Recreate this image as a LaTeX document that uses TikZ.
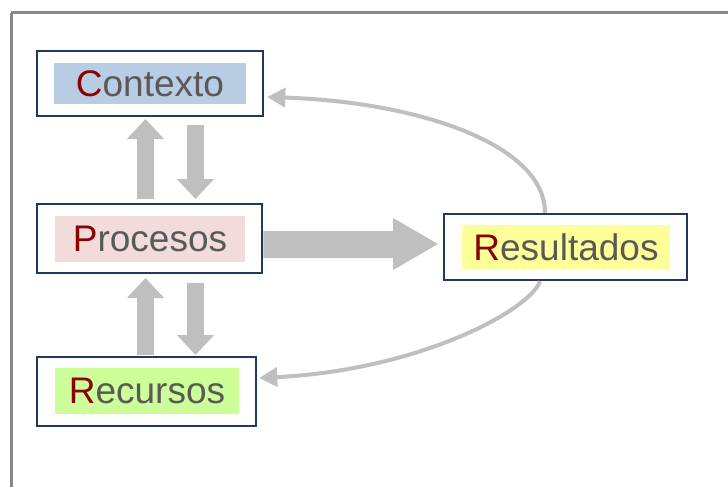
\documentclass[tikz,border=0pt]{standalone}
\usepackage{fontspec}
\setmainfont{Liberation Sans}
\usetikzlibrary{arrows.meta,calc}
\definecolor{navy}{HTML}{1F3A60}
\definecolor{txtgray}{HTML}{595959}
\definecolor{first}{HTML}{8B0000}
\definecolor{arrgray}{HTML}{BFBFBF}
\definecolor{framegray}{HTML}{888888}
\definecolor{cblue}{HTML}{B8CCE4}
\definecolor{cpink}{HTML}{F2DCDB}
\definecolor{cgreen}{HTML}{CCFF99}
\definecolor{cyellow}{HTML}{FFFF99}
\newcommand{\fl}[1]{\textcolor{first}{#1}}
\begin{document}
\begin{tikzpicture}[x=1pt,y=-1pt,
  outerbox/.style={draw=navy,line width=2.5pt,fill=white,inner sep=0pt},
  labelbox/.style={inner sep=0pt,text=txtgray,font=\fontsize{37}{40}\selectfont},
  blockarrow/.style={draw=arrgray,line width=17pt,-{Triangle[length=20pt,width=36pt,fill=arrgray]}},
  curvearrow/.style={draw=arrgray,line width=4pt,-{Triangle[length=18pt,width=19pt]}}]
\useasboundingbox (0,0) rectangle (728,487);
\draw[framegray,line width=3pt] (11,13) -- (740,13);
\draw[framegray,line width=3pt] (11,13) -- (11,500);
% boxes
\node[outerbox,minimum width=226pt,minimum height=65pt] (ctx) at (150,83.5) {};
\node[outerbox,minimum width=225pt,minimum height=69pt] (proc) at (149.5,238.5) {};
\node[outerbox,minimum width=219pt,minimum height=69pt] (rec) at (146.5,391.5) {};
\node[outerbox,minimum width=243pt,minimum height=66pt] (res) at (565.5,247) {};
\node[labelbox,fill=cblue,minimum width=192pt,minimum height=41pt] (ctxl) at (150,83.5) {\fl{C}ontexto};
\node[labelbox,fill=cpink,minimum width=190pt,minimum height=46pt] (procl) at (150,239) {\fl{P}rocesos};
\node[labelbox,fill=cgreen,minimum width=184pt,minimum height=46pt] (recl) at (147,391) {\fl{R}ecursos};
\node[labelbox,fill=cyellow,minimum width=208pt,minimum height=44pt] (resl) at (566,247) {\fl{R}esultados\hspace{13pt}};
% vertical block arrows
\coordinate (u1s) at (145.5,199); \coordinate (u1e) at (145.5,119);
\coordinate (d1s) at (195.5,125); \coordinate (d1e) at (195.5,199);
\coordinate (u2s) at (145.5,355); \coordinate (u2e) at (145.5,278);
\coordinate (d2s) at (195.5,283); \coordinate (d2e) at (195.5,355);
\draw[blockarrow] (u1s) -- (u1e);
\draw[blockarrow] (d1s) -- (d1e);
\draw[blockarrow] (u2s) -- (u2e);
\draw[blockarrow] (d2s) -- (d2e);
% big horizontal arrow
\fill[arrgray] (proc.east |- 0,231) -- (393,231) -- (393,218) -- (438,244) -- (393,270) -- (393,258) -- (proc.east |- 0,258) -- cycle;
% curved arrows
\draw[curvearrow] ($(res.north)+(-20.5,0)$) .. controls (545,145) and (420,102) .. ($(ctx.east)+(3,13.5)$);
\draw[curvearrow] ($(res.south)+(-25.5,0)$) .. controls (530,310) and (420,370) .. ($(rec.east)+(2,-13.5)$);
\end{tikzpicture}
\end{document}
